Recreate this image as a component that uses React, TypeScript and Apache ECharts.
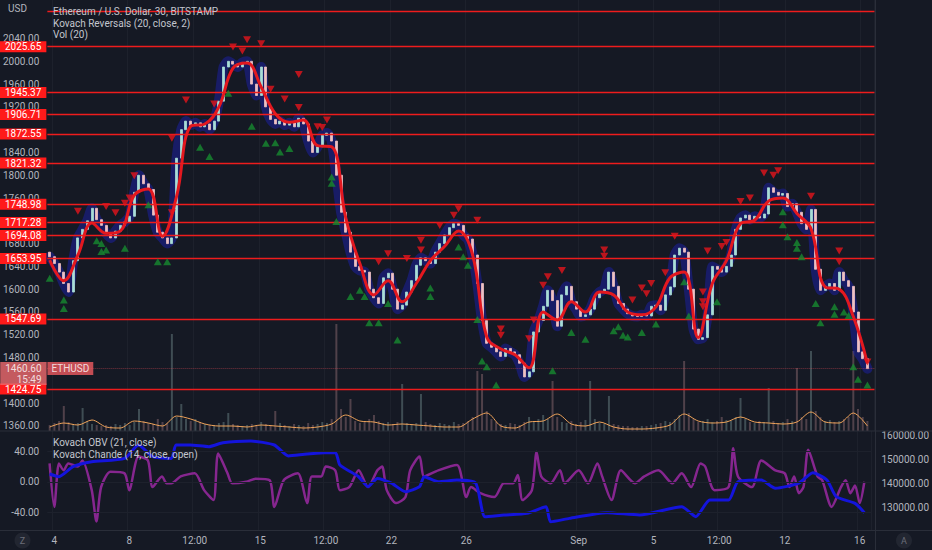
import React, { useEffect, useRef } from "react";
import * as echarts from "echarts";

// ---------- time axis (6-hour slots) ----------
const START_UTC = Date.UTC(2022, 7, 3, 18, 0);
const SLOT_HOURS = 6;
const SLOT_COUNT = 176;

const xTickLabels: [string, string][] = [
  ["08-04 00:00", "4"],
  ["08-08 00:00", "8"],
  ["08-11 12:00", "12:00"],
  ["08-15 00:00", "15"],
  ["08-18 12:00", "12:00"],
  ["08-22 00:00", "22"],
  ["08-26 00:00", "26"],
  ["09-01 00:00", "Sep"],
  ["09-05 00:00", "5"],
  ["09-08 12:00", "12:00"],
  ["09-12 00:00", "12"],
  ["09-16 00:00", "16"],
];

// ---------- price ----------
const firstOpen = 1665;
const closes = [
  1657, 1645, 1630, 1610, 1595, 1650, 1690, 1705, 1720, 1742,
  1722, 1712, 1698, 1690, 1702, 1712, 1718, 1728, 1770, 1800,
  1785, 1775, 1730, 1700, 1690, 1680, 1690, 1830, 1880, 1895,
  1888, 1892, 1885, 1890, 1880, 1895, 1930, 1990, 2000, 1995,
  1990, 1998, 2000, 1960, 1940, 1990, 1920, 1898, 1890, 1895,
  1888, 1892, 1885, 1900, 1890, 1860, 1840, 1850, 1870, 1874,
  1860, 1800, 1735, 1700, 1665, 1640, 1633, 1630, 1600, 1585,
  1575, 1620, 1628, 1600, 1565, 1572, 1595, 1615, 1642, 1655,
  1650, 1645, 1665, 1680, 1695, 1708, 1715, 1712, 1695, 1688,
  1660, 1610, 1545, 1505, 1498, 1490, 1482, 1496, 1490, 1485,
  1470, 1446, 1455, 1525, 1545, 1570, 1598, 1580, 1535, 1590,
  1605, 1578, 1565, 1552, 1555, 1565, 1585, 1595, 1600, 1630,
  1605, 1575, 1565, 1557, 1553, 1552, 1555, 1553, 1570, 1572,
  1563, 1590, 1604, 1660, 1672, 1665, 1600, 1530, 1512, 1515,
  1555, 1640, 1635, 1630, 1640, 1660, 1705, 1725, 1730, 1722,
  1728, 1725, 1732, 1778, 1770, 1765, 1768, 1745, 1750, 1735,
  1715, 1705, 1740, 1635, 1598, 1605, 1610, 1598, 1630, 1615,
  1605, 1560, 1490, 1478, 1460.6,
];

// Kovach Reversals smoothed line, one reading every 3 slots
const reversalStep = 3;
const reversalLine = [
  1651, 1615, 1660, 1716, 1698, 1702, 1765, 1776, 1693, 1763,
  1886, 1890, 1920, 1988, 1997, 1955, 1908, 1893, 1897, 1852,
  1850, 1725, 1645, 1590, 1615, 1578, 1610, 1650, 1675, 1702,
  1660, 1516, 1495, 1485, 1462, 1560, 1546, 1578, 1560, 1595,
  1590, 1560, 1555, 1569, 1620, 1630, 1515, 1610, 1650, 1715,
  1721, 1755, 1760, 1733, 1706, 1604, 1600, 1552, 1470,
];

const sellMarks: [number, number][] = [
  [6, 1737], [12, 1745], [14, 1734], [16, 1751], [17, 1760], [18, 1799],
  [26, 1865], [26, 1734], [29, 1932], [35, 1925], [39, 2025], [41, 2018],
  [42, 2038], [45, 2031], [47, 1951], [50, 1934], [53, 1919], [53, 1977],
  [57, 1885], [58, 1884], [59, 1897], [70, 1648], [72, 1662], [76, 1654],
  [79, 1669], [79, 1686], [83, 1712], [86, 1730], [87, 1741], [91, 1721],
  [96, 1530], [96, 1519], [103, 1546], [102, 1513], [105, 1607], [106, 1622],
  [109, 1633], [118, 1669], [118, 1658], [124, 1581], [126, 1602], [127, 1592],
  [128, 1610], [131, 1629], [133, 1693], [140, 1667], [139, 1595], [139, 1578],
  [139, 1569], [143, 1675], [144, 1682], [147, 1754], [149, 1760], [152, 1804],
  [154, 1800], [155, 1808], [162, 1763], [168, 1667], [168, 1648], [174, 1472],
];

const buyMarks: [number, number][] = [
  [0, 1619], [3, 1581], [3, 1566], [10, 1685], [11, 1666], [11, 1680],
  [12, 1669], [16, 1672], [21, 1748], [23, 1648], [25, 1648], [32, 1849],
  [34, 1833], [38, 1944], [43, 1886], [46, 1856], [48, 1857], [49, 1841],
  [51, 1847], [60, 1797], [60, 1786], [61, 1719], [64, 1587], [66, 1598],
  [67, 1587], [68, 1541], [70, 1541], [72, 1575], [74, 1511], [81, 1602],
  [81, 1587], [87, 1674], [88, 1657], [89, 1642], [91, 1547], [92, 1474],
  [93, 1464], [95, 1432], [107, 1457], [111, 1524], [114, 1512], [120, 1527],
  [121, 1534], [122, 1519], [123, 1516], [126, 1524], [129, 1539], [135, 1613],
  [136, 1553], [142, 1578], [156, 1736], [156, 1713], [157, 1692], [159, 1682],
  [159, 1672], [160, 1657], [163, 1575], [164, 1541], [167, 1569], [167, 1556],
  [169, 1560], [170, 1554], [171, 1464], [172, 1442], [174, 1432],
];

// horizontal levels
const labelledLevels = [
  2025.65, 1945.37, 1906.71, 1872.55, 1821.32, 1748.98, 1717.28, 1694.08,
  1653.95, 1547.69, 1424.75,
];
const unlabelledLevels = [2087.5];
const lastPrice = 1460.6;
const countdown = "15:49";
const symbolName = "ETHUSD";

// ---------- volume ----------
const volumes = [
  6, 8, 10, 25, 9, 7, 8, 23, 10, 7,
  6, 5, 6, 5, 7, 6, 8, 6, 9, 22,
  10, 8, 7, 12, 9, 8, 97, 14, 27, 12,
  10, 12, 9, 7, 6, 6, 8, 9, 18, 7,
  6, 5, 6, 7, 6, 9, 7, 6, 20, 8,
  6, 5, 7, 6, 5, 8, 6, 7, 9, 8,
  12, 107, 22, 14, 32, 10, 8, 9, 12, 16,
  10, 8, 9, 7, 9, 47, 8, 7, 8, 37,
  9, 7, 6, 8, 7, 6, 9, 7, 8, 10,
  14, 60, 57, 20, 12, 9, 7, 6, 8, 7,
  6, 9, 14, 10, 12, 16, 12, 50, 14, 9,
  8, 10, 7, 9, 11, 50, 12, 8, 7, 35,
  7, 6, 5, 5, 4, 4, 5, 5, 6, 7,
  8, 10, 9, 12, 16, 70, 18, 12, 9, 10,
  12, 9, 10, 14, 11, 10, 14, 33, 12, 9,
  8, 10, 9, 43, 10, 8, 9, 12, 10, 63,
  14, 12, 80, 20, 14, 10, 11, 9, 10, 12,
  14, 80, 22, 14, 10,
];
const volumeMAStep = 3;
const volumeMA = [
  4, 8, 6, 11, 4, 3, 10, 8, 5, 15,
  12, 7, 5, 5, 4, 6, 5, 4, 3, 4,
  7, 16, 10, 9, 6, 7, 6, 5, 4, 4,
  12, 18, 5, 3, 9, 10, 17, 7, 5, 9,
  4, 2, 2, 3, 6, 17, 10, 8, 9, 14,
  9, 8, 7, 9, 19, 9, 8, 18, 5,
];

// ---------- lower pane ----------
const obv: [number, number][] = [
  [0, 143800], [2, 142700], [5, 146850], [9, 148900], [16, 150300], [19, 155850],
  [22, 151000], [26, 150300], [27, 155850], [30, 155850], [34, 155150], [37, 156800],
  [43, 157500], [48, 155850], [51, 151300], [55, 152100], [61, 152700], [62, 147550],
  [66, 142700], [68, 138550], [70, 142000], [73, 140000], [76, 136500], [79, 138550],
  [80, 142700], [83, 140600], [87, 141300], [91, 140000], [93, 126100], [97, 126800],
  [102, 127500], [106, 130250], [107, 124000], [111, 125400], [119, 127750], [126, 126800],
  [135, 130250], [138, 126100], [141, 133000], [145, 133000], [147, 140600], [152, 141300],
  [155, 137900], [160, 140000], [163, 144350], [166, 141300], [168, 134400], [172, 131650],
  [174, 127750],
];

const chande: [number, number][] = [
  [0, 24], [1, -33], [2, 24], [3, 15], [4, 24], [6, 20], [7, 28], [9, -11], [10, -52],
  [11, -7], [13, 13], [16, 11], [17, -11], [19, 33], [21, 28], [22, -7], [24, 7],
  [25, -2], [26, -2], [28, 7], [31, 11], [33, -11], [35, -24], [36, 37], [38, 11],
  [39, -2], [42, 0], [44, 4], [47, 2], [48, -33], [50, 2], [53, 11], [55, -28],
  [56, 7], [58, 7], [59, 20], [61, 15], [62, -11], [64, -7], [66, 15], [68, -7],
  [70, 15], [71, 20], [72, -11], [74, -28], [76, -20], [77, 15], [79, 33], [80, 7],
  [83, 15], [87, 22], [89, -20], [90, -7], [92, -15], [95, -20], [97, -2], [99, -2],
  [100, 9], [101, -24], [103, -11], [104, 39], [105, 7], [107, -2], [109, 15],
  [110, -2], [113, 15], [115, -2], [117, 24], [118, 7], [120, -24], [122, 15],
  [125, -2], [127, 7], [130, 15], [133, -2], [135, 11], [137, -7], [139, 24],
  [140, 20], [142, -11], [145, -7], [146, 44], [147, 7], [150, -7], [152, 28],
  [155, 15], [157, 11], [158, -7], [159, 7], [160, -15], [161, -7], [162, 42],
  [164, 7], [165, 2], [167, -33], [169, -7], [170, 2], [171, -15], [172, -5],
  [173, -28], [174, 0],
];

// axis ticks (labels hidden behind the level tags are left out)
const priceTicks = [
  1360, 1400, 1480, 1520, 1560, 1600, 1640, 1680, 1760, 1800,
  1840, 1920, 1960, 2000, 2040,
];
const priceGridTicks = [
  1360, 1400, 1440, 1480, 1520, 1560, 1600, 1640, 1680, 1720, 1760, 1800,
  1840, 1880, 1920, 1960, 2000, 2040,
];
const chandeTicks = [-40, 0, 40];
const obvTicks = [130000, 140000, 150000, 160000];

// ---------- styling ----------
const FONT = "Roboto, 'Liberation Sans', sans-serif";
const BG = "#151924";
const TXT = "#b2b5be";
const GRIDLINE = "#1d212c";
const BORDER = "#2a2e39";
const LEVEL_RED = "#ee1c1c";

const GRID_LEFT = 47.25;
const GRID_WIDTH = 827.2;
const MAIN_H = 431;

function buildCategories(): string[] {
  const out: string[] = [];
  for (let k = 0; k < SLOT_COUNT; k++) {
    const d = new Date(START_UTC + k * SLOT_HOURS * 3600 * 1000);
    const p = (n: number) => String(n).padStart(2, "0");
    out.push(`${p(d.getUTCMonth() + 1)}-${p(d.getUTCDate())} ${p(d.getUTCHours())}:${p(d.getUTCMinutes())}`);
  }
  return out;
}

function buildOption() {
  const categories = buildCategories();
  const tickMap: Record<string, string> = Object.fromEntries(xTickLabels);
  const isTick = (_i: number, v: string) => v in tickMap;

  const opens = [firstOpen, ...closes.slice(0, -1)];
  const candles = closes.map((c, i) => {
    const o = opens[i];
    return [o, c, Math.min(o, c), Math.max(o, c)];
  });
  const volData = volumes.map((v, i) => ({
    value: v,
    itemStyle: { color: closes[i] >= opens[i] ? "rgba(105,130,132,0.5)" : "rgba(140,105,112,0.5)" },
  }));
  const revData = reversalLine.map((v, k) => [k * reversalStep, v]);
  const vmaData = volumeMA.map((v, k) => [k * volumeMAStep, v]);

  const levelMarks = [
    ...labelledLevels.map((v) => ({
      yAxis: v,
      label: { show: true, formatter: v.toFixed(2) },
    })),
    ...unlabelledLevels.map((v) => ({ yAxis: v, label: { show: false } })),
  ];

  const legendText = (text: string, x: number, y: number) => ({
    type: "text",
    x,
    y,
    z: 100,
    silent: true,
    style: { text, fill: "#c3c6ce", fontSize: 10, fontFamily: FONT },
  });

  return {
    animation: false,
    backgroundColor: BG,
    textStyle: { fontFamily: FONT },
    grid: [
      { left: GRID_LEFT, width: GRID_WIDTH, top: 0, height: MAIN_H },
      { left: GRID_LEFT, width: GRID_WIDTH, top: 431, height: 99 },
    ],
    xAxis: [
      {
        type: "category",
        gridIndex: 0,
        data: categories,
        boundaryGap: true,
        axisLine: { show: false },
        axisTick: { show: false },
        axisLabel: { show: false },
        splitLine: { show: true, interval: isTick, lineStyle: { color: GRIDLINE, width: 1 } },
      },
      {
        type: "category",
        gridIndex: 1,
        data: categories,
        boundaryGap: true,
        axisLine: { show: false },
        axisTick: { show: false },
        axisLabel: {
          show: true,
          interval: isTick,
          formatter: (v: string) => tickMap[v] ?? "",
          color: TXT,
          fontSize: 10,
          fontFamily: FONT,
          margin: 5,
        },
        splitLine: { show: true, interval: isTick, lineStyle: { color: GRIDLINE, width: 1 } },
      },
    ],
    yAxis: [
      {
        type: "value",
        gridIndex: 0,
        position: "left",
        min: 1351.1,
        max: 2107.6,
        axisLine: { show: false },
        axisTick: { show: false },
        splitLine: { show: false },
        axisLabel: {
          customValues: priceTicks,
          formatter: (v: number) => v.toFixed(2),
          color: TXT,
          fontSize: 10,
          lineHeight: 10,
          fontFamily: FONT,
          margin: 8,
        },
      },
      { type: "value", gridIndex: 0, min: 0, max: MAIN_H, show: false },
      {
        type: "value",
        gridIndex: 1,
        position: "left",
        min: -63.3,
        max: 66.6,
        axisLine: { show: false },
        axisTick: { show: false },
        splitLine: { show: false },
        axisLabel: {
          customValues: chandeTicks,
          formatter: (v: number) => v.toFixed(2),
          color: TXT,
          fontSize: 10,
          fontFamily: FONT,
          margin: 8,
        },
      },
      {
        type: "value",
        gridIndex: 1,
        position: "right",
        min: 120580,
        max: 161660,
        axisLine: { show: false },
        axisTick: { show: false },
        splitLine: { show: false },
        axisLabel: {
          customValues: obvTicks,
          formatter: (v: number) => v.toFixed(2),
          color: TXT,
          fontSize: 10,
          fontFamily: FONT,
          margin: 10,
        },
      },
    ],
    series: [
      // volume + faint price grid
      {
        type: "bar",
        name: "Vol",
        xAxisIndex: 0,
        yAxisIndex: 1,
        data: volData,
        barWidth: 2,
        z: 1,
        silent: true,
        markLine: {
          silent: true,
          symbol: ["none", "none"],
          label: { show: false },
          lineStyle: { color: GRIDLINE, type: "solid", width: 1 },
          data: priceGridTicks.map((v) => ({ yAxis: v })),
        },
      },
      {
        type: "line",
        name: "Vol MA",
        xAxisIndex: 0,
        yAxisIndex: 1,
        data: vmaData,
        showSymbol: false,
        smooth: 0.3,
        lineStyle: { color: "#f0a45a", width: 1 },
        z: 2,
        silent: true,
      },
      // blue envelope
      {
        type: "line",
        name: "band",
        xAxisIndex: 0,
        yAxisIndex: 0,
        data: closes,
        showSymbol: false,
        smooth: 0.2,
        lineStyle: { color: "rgba(28,34,185,0.45)", width: 10, cap: "round", join: "round" },
        z: 2,
        silent: true,
      },
      {
        type: "candlestick",
        name: "ETHUSD",
        xAxisIndex: 0,
        yAxisIndex: 0,
        data: candles,
        barWidth: 2.5,
        itemStyle: {
          color: "#a9ddd7",
          color0: "#eec0c3",
          borderColor: "#a9ddd7",
          borderColor0: "#eec0c3",
          borderWidth: 0.8,
        },
        z: 3,
        silent: true,
      },
      {
        type: "line",
        name: "Kovach Reversals",
        xAxisIndex: 0,
        yAxisIndex: 0,
        data: revData,
        showSymbol: false,
        smooth: 0.4,
        lineStyle: { color: "#e3181f", width: 3 },
        z: 4,
        silent: true,
        markLine: {
          silent: true,
          symbol: ["none", "none"],
          lineStyle: { color: LEVEL_RED, type: "solid", width: 1.3 },
          label: {
            position: "start",
            distance: 1,
            color: "#ffffff",
            backgroundColor: "#ff1a1a",
            padding: [0, 5, 0, 5],
            fontSize: 10,
            lineHeight: 11,
            fontFamily: FONT,
          },
          data: [
            ...levelMarks,
            {
              yAxis: lastPrice,
              label: { show: false },
              lineStyle: { color: "rgba(242,80,90,0.45)", type: "dotted", width: 1 },
            },
          ],
        },
      },
      {
        type: "scatter",
        name: "sell",
        xAxisIndex: 0,
        yAxisIndex: 0,
        data: sellMarks,
        symbol: "triangle",
        symbolRotate: 180,
        symbolSize: [8, 7],
        itemStyle: { color: "#e3141b" },
        z: 5,
        silent: true,
      },
      {
        type: "scatter",
        name: "buy",
        xAxisIndex: 0,
        yAxisIndex: 0,
        data: buyMarks,
        symbol: "triangle",
        symbolSize: [8, 7],
        itemStyle: { color: "#178a30" },
        z: 5,
        silent: true,
      },
      // last price tags
      {
        type: "scatter",
        name: "tag",
        xAxisIndex: 0,
        yAxisIndex: 0,
        data: [[0, lastPrice]],
        symbolSize: 0,
        z: 10,
        silent: true,
        label: {
          show: true,
          position: [-2.3, 0],
          align: "left",
          verticalAlign: "middle",
          formatter: symbolName,
          color: "#ffffff",
          backgroundColor: "#ef5a60",
          padding: [1, 4, 1, 4],
          fontSize: 10,
          lineHeight: 11,
          fontFamily: FONT,
        },
      },
      {
        type: "scatter",
        name: "priceTag",
        xAxisIndex: 0,
        yAxisIndex: 0,
        data: [[0, lastPrice]],
        symbolSize: 0,
        z: 11,
        silent: true,
        label: {
          show: true,
          position: [-3.1, -6.5],
          align: "right",
          verticalAlign: "top",
          formatter: `${lastPrice.toFixed(2)}\n${countdown}`,
          lineHeight: 11,
          color: "#ffffff",
          backgroundColor: "#f06a6e",
          padding: [1, 5, 0, 5],
          fontSize: 10,
          fontFamily: FONT,
        },
      },
      // lower pane
      {
        type: "line",
        name: "Kovach Chande",
        xAxisIndex: 1,
        yAxisIndex: 2,
        data: chande,
        showSymbol: false,
        smooth: 0.25,
        lineStyle: { color: "#86268f", width: 2.5 },
        z: 3,
        silent: true,
        markLine: {
          silent: true,
          symbol: ["none", "none"],
          label: { show: false },
          lineStyle: { color: GRIDLINE, type: "solid", width: 1 },
          data: chandeTicks.map((v) => ({ yAxis: v })),
        },
      },
      {
        type: "line",
        name: "Kovach OBV",
        xAxisIndex: 1,
        yAxisIndex: 3,
        data: obv,
        showSymbol: false,
        smooth: 0.2,
        lineStyle: { color: "#1414dc", width: 3 },
        z: 4,
        silent: true,
      },
    ],
    graphic: [
      { type: "line", silent: true, z: 50, shape: { x1: 0, y1: 431, x2: 932, y2: 431 }, style: { stroke: BORDER, lineWidth: 1 } },
      { type: "line", silent: true, z: 50, shape: { x1: 0, y1: 530.5, x2: 932, y2: 530.5 }, style: { stroke: BORDER, lineWidth: 1 } },
      { type: "line", silent: true, z: 50, shape: { x1: 875.5, y1: 0, x2: 875.5, y2: 550 }, style: { stroke: BORDER, lineWidth: 1 } },
      {
        type: "text", x: 8, y: 3, z: 100, silent: true,
        style: { text: "USD", fill: TXT, fontSize: 10, fontFamily: FONT },
      },
      legendText("Ethereum / U.S. Dollar, 30, BITSTAMP", 53, 6),
      legendText("Kovach Reversals (20, close, 2)", 53, 18),
      legendText("Vol (20)", 53, 29.5),
      legendText("Kovach OBV (21, close)", 53, 437.5),
      legendText("Kovach Chande (14, close, open)", 53, 449.5),
      { type: "circle", silent: true, z: 100, shape: { cx: 22.5, cy: 540.5, r: 8 }, style: { fill: "#222631" } },
      {
        type: "text", x: 22.5, y: 540.5, z: 101, silent: true,
        style: { text: "Z", fill: "#6b6e79", fontSize: 9, fontFamily: FONT, align: "center", verticalAlign: "middle" },
      },
      { type: "circle", silent: true, z: 100, shape: { cx: 904, cy: 540.5, r: 8 }, style: { fill: "#222631" } },
      {
        type: "text", x: 904, y: 540.5, z: 101, silent: true,
        style: { text: "A", fill: "#6b6e79", fontSize: 9, fontFamily: FONT, align: "center", verticalAlign: "middle" },
      },
    ],
  };
}

export default function App() {
  const ref = useRef<HTMLDivElement>(null);
  useEffect(() => {
    if (!ref.current) return;
    const chart = echarts.init(ref.current, undefined, { renderer: "svg", width: 932, height: 550 });
    chart.setOption(buildOption() as any);
    return () => chart.dispose();
  }, []);
  return (
    <div
      ref={ref}
      style={{ position: "fixed", left: 0, top: 0, width: 932, height: 550, background: BG }}
    />
  );
}
